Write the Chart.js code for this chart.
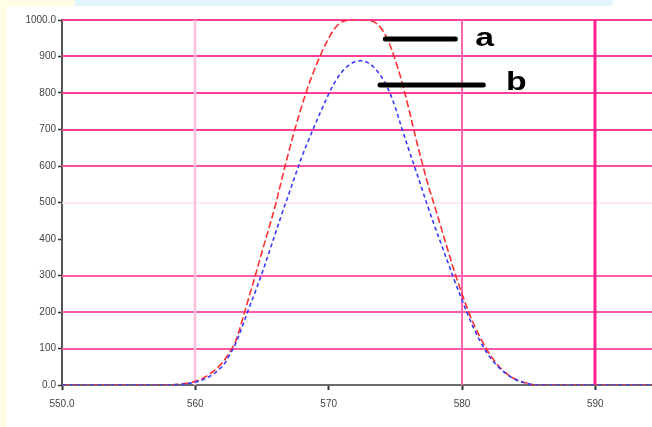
<!DOCTYPE html>
<html>
<head>
<meta charset="utf-8">
<script src="https://cdn.jsdelivr.net/npm/chart.js@4/dist/chart.umd.min.js"></script>
<style>
  html, body { margin: 0; padding: 0; background: #ffffff; }
  #wrap { position: relative; width: 652px; height: 427px; overflow: hidden; background: #ffffff; }
  #stripL { position: absolute; left: 0; top: 0; width: 6px; height: 427px; background: #fffde6; }
  #stripT1 { position: absolute; left: 0; top: 0; width: 75px; height: 6px; background: #fffde6; }
  #stripT2 { position: absolute; left: 75px; top: 0; width: 538px; height: 6px; background: #e3f6fd; }
  canvas { position: absolute; left: 0; top: 0; }
</style>
</head>
<body>
<div id="wrap">
  <div id="stripL"></div><div id="stripT1"></div><div id="stripT2"></div>
  <canvas id="c" width="652" height="427"></canvas>
</div>
<script>
// ---- data ----
const wavelengths = [550, 555, 558, 559, 560, 561, 562, 562.5, 563, 563.5, 564, 564.5, 565, 565.5, 566, 566.5, 567, 567.5, 568, 568.5, 569, 569.5, 570, 570.5, 571, 571.5, 572, 572.5, 573, 573.5, 574, 574.5, 575, 575.5, 576, 576.5, 577, 577.5, 578, 578.5, 579, 579.5, 580, 580.5, 581, 581.5, 582, 582.5, 583, 583.5, 584, 584.5, 585, 585.5, 590, 594.25];
const seriesA = [0, 0, 0, 3, 10, 28, 60, 86, 118, 175, 238, 300, 365, 427, 492, 566, 638, 705, 766, 822, 870, 913, 950, 979, 995, 1000, 1000, 1000, 999, 993, 974, 940, 890, 830, 758, 682, 610, 543, 484, 423, 362, 303, 250, 200, 157, 121, 89, 63, 42, 27, 16, 9, 4, 0, 0, 0];
const seriesB = [0, 0, 0, 2, 8, 22, 50, 78, 112, 158, 208, 256, 306, 360, 415, 470, 522, 575, 626, 672, 715, 757, 797, 832, 858, 876, 886, 888, 882, 866, 842, 808, 760, 702, 646, 592, 537, 482, 430, 380, 330, 280, 233, 187, 146, 111, 81, 58, 40, 26, 15, 8, 3, 0, 0, 0];
const xTickValues = [550, 560, 570, 580, 590];
const xTickLabels = ['550.0', '560', '570', '580', '590'];
const yTickValues = [0, 100, 200, 300, 400, 500, 600, 700, 800, 900, 1000];
const yTickLabels = ['0.0', '100', '200', '300', '400', '500', '600', '700', '800', '900', '1000.0'];
const seriesNames = ['a', 'b'];

// annotation placement (data coordinates)
const annotations = [
  { name: seriesNames[0], x1: 574.25, x2: 579.5, y: 948, tx: 581.0, ty: 948 },
  { name: seriesNames[1], x1: 573.85, x2: 581.6, y: 822, tx: 583.3, ty: 828 }
];

// grid line styling (value -> style); values not listed get no line
const hGrid = [
  { v: 100, color: '#ff5aa8', w: 2 }, { v: 200, color: '#ff5aa8', w: 2 }, { v: 300, color: '#ff5aa8', w: 2 },
  { v: 500, color: '#ffe3f0', w: 1.5 }, { v: 600, color: '#ff4fa2', w: 2 }, { v: 700, color: '#ff3d9a', w: 2 },
  { v: 800, color: '#ff3d9a', w: 2 }, { v: 900, color: '#ff3d9a', w: 2 }, { v: 1000, color: '#ff3d9a', w: 2 }
];
const vGrid = [
  { v: 560, color: '#ffbfdf', w: 2.5 }, { v: 580, color: '#ff66b3', w: 2 }, { v: 590, color: '#ff1f8f', w: 3 }
];

const ptsA = wavelengths.map((x, i) => ({ x: x, y: seriesA[i] }));
const ptsB = wavelengths.map((x, i) => ({ x: x, y: seriesB[i] }));

const gridPlugin = {
  id: 'customGrid',
  beforeDatasetsDraw(chart) {
    const ctx = chart.ctx, xs = chart.scales.x, ys = chart.scales.y, a = chart.chartArea;
    ctx.save();
    hGrid.forEach(g => {
      const y = Math.round(ys.getPixelForValue(g.v));
      ctx.strokeStyle = g.color; ctx.lineWidth = g.w;
      ctx.beginPath(); ctx.moveTo(a.left, y); ctx.lineTo(a.right, y); ctx.stroke();
    });
    vGrid.forEach(g => {
      const x = Math.round(xs.getPixelForValue(g.v));
      ctx.strokeStyle = g.color; ctx.lineWidth = g.w;
      ctx.beginPath(); ctx.moveTo(x, a.top); ctx.lineTo(x, a.bottom); ctx.stroke();
    });
    ctx.restore();
  }
};

const annotationPlugin = {
  id: 'abLabels',
  afterDatasetsDraw(chart) {
    const ctx = chart.ctx, xs = chart.scales.x, ys = chart.scales.y;
    ctx.save();
    annotations.forEach(a => {
      ctx.strokeStyle = '#000';
      ctx.lineWidth = 5;
      ctx.lineCap = 'round';
      ctx.beginPath();
      ctx.moveTo(xs.getPixelForValue(a.x1), ys.getPixelForValue(a.y));
      ctx.lineTo(xs.getPixelForValue(a.x2), ys.getPixelForValue(a.y));
      ctx.stroke();
      const px = xs.getPixelForValue(a.tx), py = ys.getPixelForValue(a.ty);
      ctx.save();
      ctx.translate(px, py);
      ctx.scale(1.3, 1);
      ctx.fillStyle = '#000';
      ctx.font = 'bold 26px "Liberation Sans", Arial, sans-serif';
      ctx.textAlign = 'left';
      ctx.textBaseline = 'middle';
      ctx.fillText(a.name, 0, 0);
      ctx.restore();
    });
    ctx.restore();
  }
};

new Chart(document.getElementById('c'), {
  type: 'line',
  data: {
    datasets: [
      { label: seriesNames[1], data: ptsB, borderColor: '#3a3aff', borderWidth: 1.6, borderDash: [4, 3], pointRadius: 0, tension: 0.35, fill: false },
      { label: seriesNames[0], data: ptsA, borderColor: '#ff3030', borderWidth: 1.6, borderDash: [7, 3], pointRadius: 0, tension: 0.35, fill: false }
    ]
  },
  options: {
    responsive: false,
    animation: false,
    layout: { padding: { top: 20, right: 0, left: 0, bottom: 0 } },
    plugins: { legend: { display: false }, tooltip: { enabled: false } },
    scales: {
      x: {
        type: 'linear',
        min: 550, max: 594.25,
        afterBuildTicks(scale) { scale.ticks = xTickValues.map(v => ({ value: v })); },
        afterFit(scale) { scale.height = 42; },
        ticks: {
          callback: (v) => { const i = xTickValues.indexOf(v); return i >= 0 ? xTickLabels[i] : ''; },
          font: { family: '"Liberation Sans", Arial, sans-serif', size: 10 },
          color: '#444', padding: 8, maxRotation: 0, autoSkip: false
        },
        grid: { drawOnChartArea: false, tickColor: '#333', tickLength: 5, tickWidth: 2 },
        border: { color: '#6b6b6b', width: 2 }
      },
      y: {
        min: 0, max: 1000,
        afterBuildTicks(scale) { scale.ticks = yTickValues.map(v => ({ value: v })); },
        afterFit(scale) { scale.width = 62; },
        ticks: {
          callback: (v) => { const i = yTickValues.indexOf(v); return i >= 0 ? yTickLabels[i] : ''; },
          font: { family: '"Liberation Sans", Arial, sans-serif', size: 10 },
          color: '#444', padding: 2, autoSkip: false
        },
        grid: { drawOnChartArea: false, tickColor: '#333', tickLength: 4, tickWidth: 1.5 },
        border: { color: '#555', width: 2 }
      }
    }
  },
  plugins: [gridPlugin, annotationPlugin]
});
</script>
</body>
</html>
